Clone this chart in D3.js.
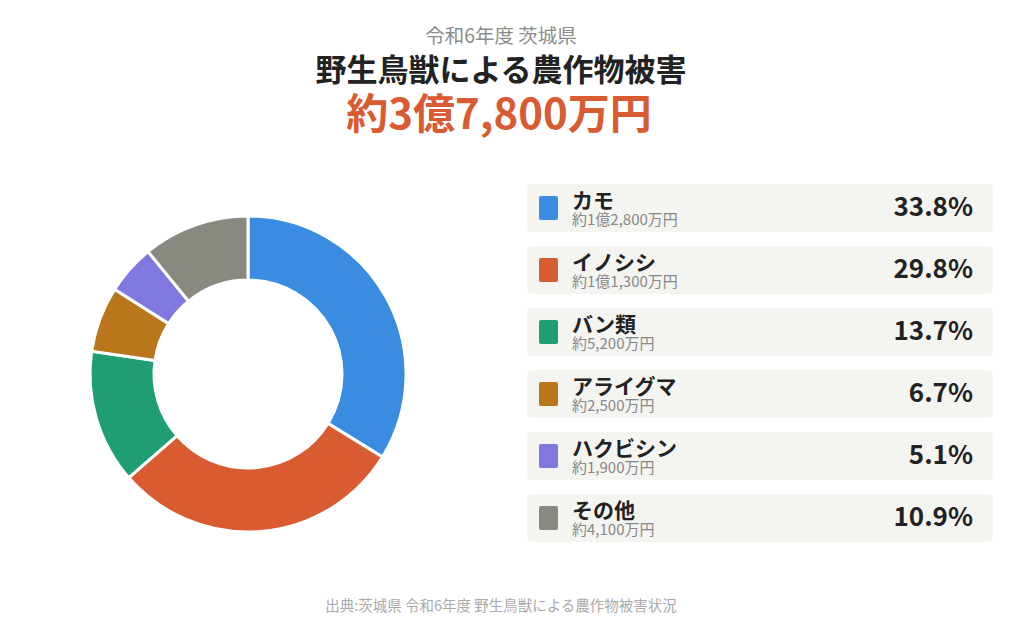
<!DOCTYPE html>
<html>
<head>
<meta charset="utf-8">
<script src="https://cdn.jsdelivr.net/npm/d3@7"></script>
<style>
    body { margin: 0; background: #fff; }
    svg { display: block; font-family: "Noto Sans CJK JP", "Noto Sans", sans-serif; }
</style>
</head>
<body>
<div id="chart"></div>
<script>
    'use strict';

    var categories = ['カモ', 'イノシシ', 'バン類', 'アライグマ', 'ハクビシン', 'その他'];
    var percents = [33.8, 29.8, 13.7, 6.7, 5.1, 10.9];
    var amountLabels = ['約1億2,800万円', '約1億1,300万円', '約5,200万円', '約2,500万円', '約1,900万円', '約4,100万円'];
    var colors = ['#3a8ce0', '#d95b31', '#1f9e74', '#b9761a', '#8077df', '#8a8981'];

    var subtitle = '令和6年度 茨城県';
    var title = '野生鳥獣による農作物被害';
    var total = '約3億7,800万円';
    var source = '出典:茨城県 令和6年度 野生鳥獣による農作物被害状況';

    var width = 1024;
    var height = 642;
    var centerX = 501;

    var svg = d3.select('#chart').append('svg')
        .attr('width', width)
        .attr('height', height);

    // headings
    svg.append('text')
        .attr('x', centerX).attr('y', 43)
        .attr('text-anchor', 'middle')
        .style('font-size', '19.5px').style('fill', '#8c8c8c')
        .text(subtitle);

    svg.append('text')
        .attr('x', centerX).attr('y', 81)
        .attr('text-anchor', 'middle')
        .style('font-size', '31px').style('font-weight', 'bold').style('fill', '#222')
        .text(title);

    svg.append('text')
        .attr('x', centerX - 2).attr('y', 129)
        .attr('text-anchor', 'middle')
        .style('font-size', '42px').style('font-weight', 'bold').style('fill', '#d95b31')
        .text(total);

    // donut
    var data = categories.map(function (c, i) {
        return { name: c, value: percents[i], color: colors[i] };
    });

    var pie = d3.pie().sort(null).value(function (d) { return d.value; });
    var arc = d3.arc().innerRadius(94).outerRadius(158);

    svg.append('g')
        .attr('transform', 'translate(248,374)')
        .selectAll('path')
        .data(pie(data))
        .enter().append('path')
        .attr('d', arc)
        .style('fill', function (d) { return d.data.color; })
        .style('stroke', '#fff')
        .style('stroke-width', 3);

    // legend
    var rowY = d3.scaleBand()
        .domain(categories)
        .range([184, 184 + 62 * categories.length - 14])
        .paddingInner(14 / 62);

    var rows = svg.append('g').selectAll('g')
        .data(data)
        .enter().append('g')
        .attr('transform', function (d) { return 'translate(527,' + rowY(d.name) + ')'; });

    rows.append('rect')
        .attr('width', 466)
        .attr('height', rowY.bandwidth())
        .attr('rx', 5)
        .style('fill', '#f4f4f1');

    rows.append('rect')
        .attr('x', 12).attr('y', 12)
        .attr('width', 19).attr('height', 24)
        .attr('rx', 2)
        .style('fill', function (d) { return d.color; });

    rows.append('text')
        .attr('x', 45).attr('y', 24)
        .style('font-size', '21px').style('font-weight', 'bold').style('fill', '#222')
        .text(function (d) { return d.name; });

    rows.append('text')
        .attr('x', 45).attr('y', 41)
        .style('font-size', '15px').style('fill', '#888')
        .text(function (d, i) { return amountLabels[i]; });

    rows.append('text')
        .attr('x', 446).attr('y', 32)
        .attr('text-anchor', 'end')
        .style('font-size', '26px').style('font-weight', 'bold').style('fill', '#222')
        .text(function (d) { return d.value.toFixed(1) + '%'; });

    svg.append('text')
        .attr('x', centerX).attr('y', 611)
        .attr('text-anchor', 'middle')
        .style('font-size', '14.5px').style('fill', '#aaa')
        .text(source);
</script>
</body>
</html>
